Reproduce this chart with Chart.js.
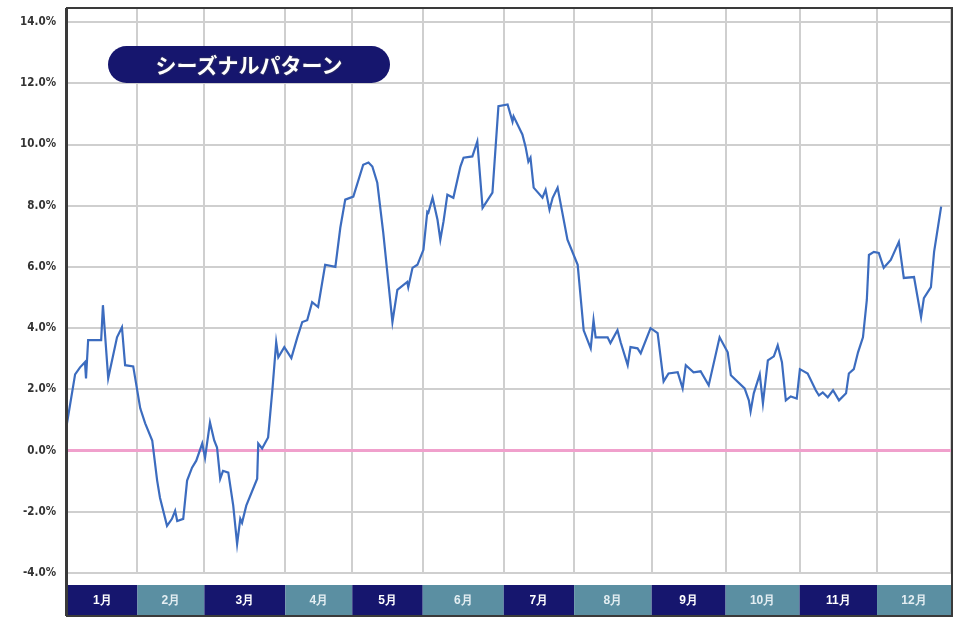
<!DOCTYPE html>
<html>
<head>
<meta charset="utf-8">
<script src="https://cdn.jsdelivr.net/npm/chart.js@4"></script>
<style>
  html, body { margin: 0; padding: 0; background: #fff; }
  .wrap { position: relative; width: 955px; height: 620px; }
  .badge {
    position: absolute; left: 108px; top: 46px; width: 282px; height: 37px;
    border-radius: 19px; background: #16166e; color: #fff;
    font: bold 21px "Noto Sans CJK JP", sans-serif; line-height: 37px; text-align: center;
    text-shadow: 0 0 2px #555;
  }
</style>
</head>
<body>
<div class="wrap">
  <canvas id="chart" width="955" height="620"></canvas>
  <div class="badge">シーズナルパターン</div>
</div>
<script>
// trading days per month and labels
const months = ['1月', '2月', '3月', '4月', '5月', '6月', '7月', '8月', '9月', '10月', '11月', '12月'];
const monthDays = [20, 19, 23, 19, 20, 23, 20, 22, 21, 21, 22, 21];
const yTicks = [-4, -2, 0, 2, 4, 6, 8, 10, 12, 14];

// line vertices: trading day index, return in %
const days = [0, 2.3, 3.7, 5.1, 5.4, 6.0, 9.7, 10.2, 11.7, 14.2, 15.6, 16.5, 18.8, 20.8, 22.2, 24.2, 25.6, 26.4, 28.4, 29.8,
  30.7, 31.3, 33.0, 34.1, 35.5, 36.7, 38.4, 39.2, 40.6, 41.8, 42.6, 43.5, 44.3, 45.8, 47.2, 48.3, 49.2, 49.7, 50.9, 54.0,
  54.3, 55.4, 57.1, 58.3, 59.4, 60.0, 61.7, 63.7, 65.4, 66.8, 68.2, 69.6, 71.3, 73.3, 76.2, 77.6, 79.0, 81.3, 84.1, 85.6,
  86.7, 88.1, 89.8, 92.4, 93.8, 96.6, 96.9, 98.1, 99.5, 101.2, 102.3, 102.6, 103.8, 105.2, 106.0, 106.9, 108.0, 109.7, 111.7, 112.6,
  115.1, 116.5, 118.0, 120.8, 122.5, 125.1, 126.5, 126.8, 129.3, 130.2, 131.0, 131.6, 132.5, 135.0, 135.9, 137.0, 137.9, 139.3, 142.1, 145.0,
  146.7, 148.7, 149.5, 150.1, 153.5, 154.3, 156.3, 157.2, 159.2, 160.0, 162.0, 162.9, 165.7, 167.7, 169.4, 170.8, 173.4, 174.8, 175.7, 177.9,
  179.9, 182.2, 185.3, 187.6, 188.5, 192.4, 193.6, 194.1, 195.0, 196.7, 197.6, 199.0, 200.7, 201.8, 203.0, 204.1, 205.5, 207.2, 208.1, 210.3,
  212.6, 213.5, 214.6, 216.0, 217.5, 219.2, 221.2, 222.0, 223.4, 224.6, 226.0, 227.1, 227.7, 229.1, 230.5, 231.9, 233.9, 236.2, 237.6, 240.5,
  242.5, 243.3, 245.3, 246.2, 248.2];
const values = [0.89, 2.49, 2.72, 2.89, 2.36, 3.61, 3.61, 4.75, 2.36, 3.70, 4.03, 2.79, 2.75, 1.38, 0.89, 0.33, -0.98, -1.54, -2.46, -2.23,
  -1.97, -2.30, -2.23, -0.98, -0.56, -0.33, 0.23, -0.23, 0.92, 0.33, 0.10, -0.92, -0.66, -0.72, -1.80, -3.05, -2.23, -2.36, -1.80, -0.92,
  0.23, 0.07, 0.43, 1.97, 3.54, 3.05, 3.38, 3.02, 3.70, 4.20, 4.26, 4.85, 4.69, 6.07, 6.00, 7.28, 8.20, 8.30, 9.34, 9.41,
  9.28, 8.75, 7.11, 4.20, 5.25, 5.51, 5.34, 5.97, 6.07, 6.56, 7.80, 7.77, 8.26, 7.54, 6.89, 7.48, 8.36, 8.26, 9.28, 9.57,
  9.61, 10.10, 7.93, 8.43, 11.25, 11.31, 10.75, 10.92, 10.33, 9.93, 9.44, 9.57, 8.59, 8.26, 8.52, 7.87, 8.26, 8.59, 6.89, 6.07,
  3.93, 3.34, 4.26, 3.70, 3.70, 3.51, 3.93, 3.54, 2.79, 3.38, 3.34, 3.18, 4.00, 3.84, 2.26, 2.52, 2.56, 2.03, 2.79, 2.56,
  2.59, 2.13, 3.70, 3.21, 2.46, 2.03, 1.64, 1.28, 1.87, 2.49, 1.54, 2.95, 3.08, 3.44, 2.89, 1.64, 1.77, 1.70, 2.66, 2.52,
  1.97, 1.80, 1.90, 1.74, 1.97, 1.64, 1.87, 2.52, 2.66, 3.21, 3.70, 4.92, 6.39, 6.49, 6.46, 5.97, 6.23, 6.82, 5.64, 5.67,
  4.36, 4.98, 5.34, 6.49, 7.97];

const monthBounds = [0];
monthDays.forEach(d => monthBounds.push(monthBounds[monthBounds.length - 1] + d));
const totalDays = monthBounds[monthBounds.length - 1];

// month strip under the plot and the outer frame
const monthBar = {
    id: 'monthBar',
    afterDraw(chart) {
        const ctx = chart.ctx;
        const x = chart.scales.x;
        const area = chart.chartArea;
        ctx.save();
        for (let i = 0; i < months.length; i++) {
            const x0 = x.getPixelForValue(monthBounds[i]);
            const x1 = x.getPixelForValue(monthBounds[i + 1]);
            ctx.fillStyle = i % 2 === 0 ? '#16166e' : '#5b8fa2';
            ctx.fillRect(x0, 585, x1 - x0, 30);
            ctx.fillStyle = i % 2 === 0 ? '#ffffff' : '#e4eef2';
            ctx.font = 'bold 12px "Liberation Sans", sans-serif';
            ctx.textAlign = 'center';
            ctx.textBaseline = 'middle';
            ctx.fillText(months[i], (x0 + x1) / 2, 601);
        }
        ctx.strokeStyle = '#3a3a3a';
        ctx.lineWidth = 2;
        ctx.strokeRect(area.left, 8, area.right - area.left + 1, 608);
        ctx.fillStyle = '#3a3a3a';
        ctx.fillRect(area.left - 2, 8, 3, 608);
        ctx.restore();
    }
};

new Chart(document.getElementById('chart'), {
    type: 'line',
    data: {
        datasets: [{
            data: days.map((d, i) => ({ x: d, y: values[i] })),
            borderColor: '#3c6cbf',
            borderWidth: 2.2,
            pointRadius: 0,
            tension: 0
        }]
    },
    options: {
        responsive: false,
        animation: false,
        layout: { padding: { top: 8, right: 4, bottom: 47, left: 0 } },
        plugins: { legend: { display: false }, tooltip: { enabled: false } },
        scales: {
            x: {
                type: 'linear',
                min: 0,
                max: totalDays,
                afterBuildTicks: s => { s.ticks = monthBounds.map(v => ({ value: v })); },
                afterFit: s => { s.height = 0; s.paddingLeft = 0; s.paddingRight = 0; },
                ticks: { display: false },
                grid: { color: '#cfcfcf', lineWidth: 2, drawTicks: false },
                border: { display: false }
            },
            y: {
                min: -4,
                max: 14.46,
                afterBuildTicks: s => { s.ticks = yTicks.map(v => ({ value: v })); },
                afterFit: s => { s.width = 67; s.paddingTop = 0; s.paddingBottom = 0; },
                ticks: {
                    padding: 11,
                    color: '#333',
                    font: { family: '"Liberation Sans Narrow", "DejaVu Sans Condensed", sans-serif', size: 11.5, weight: 'bold' },
                    callback: v => v.toFixed(1) + '%'
                },
                grid: {
                    color: c => c.tick && c.tick.value === 0 ? '#f0a0cc' : '#cfcfcf',
                    lineWidth: c => c.tick && c.tick.value === 0 ? 3 : 2,
                    drawTicks: false
                },
                border: { display: false }
            }
        }
    },
    plugins: [monthBar]
});
</script>
</body>
</html>
